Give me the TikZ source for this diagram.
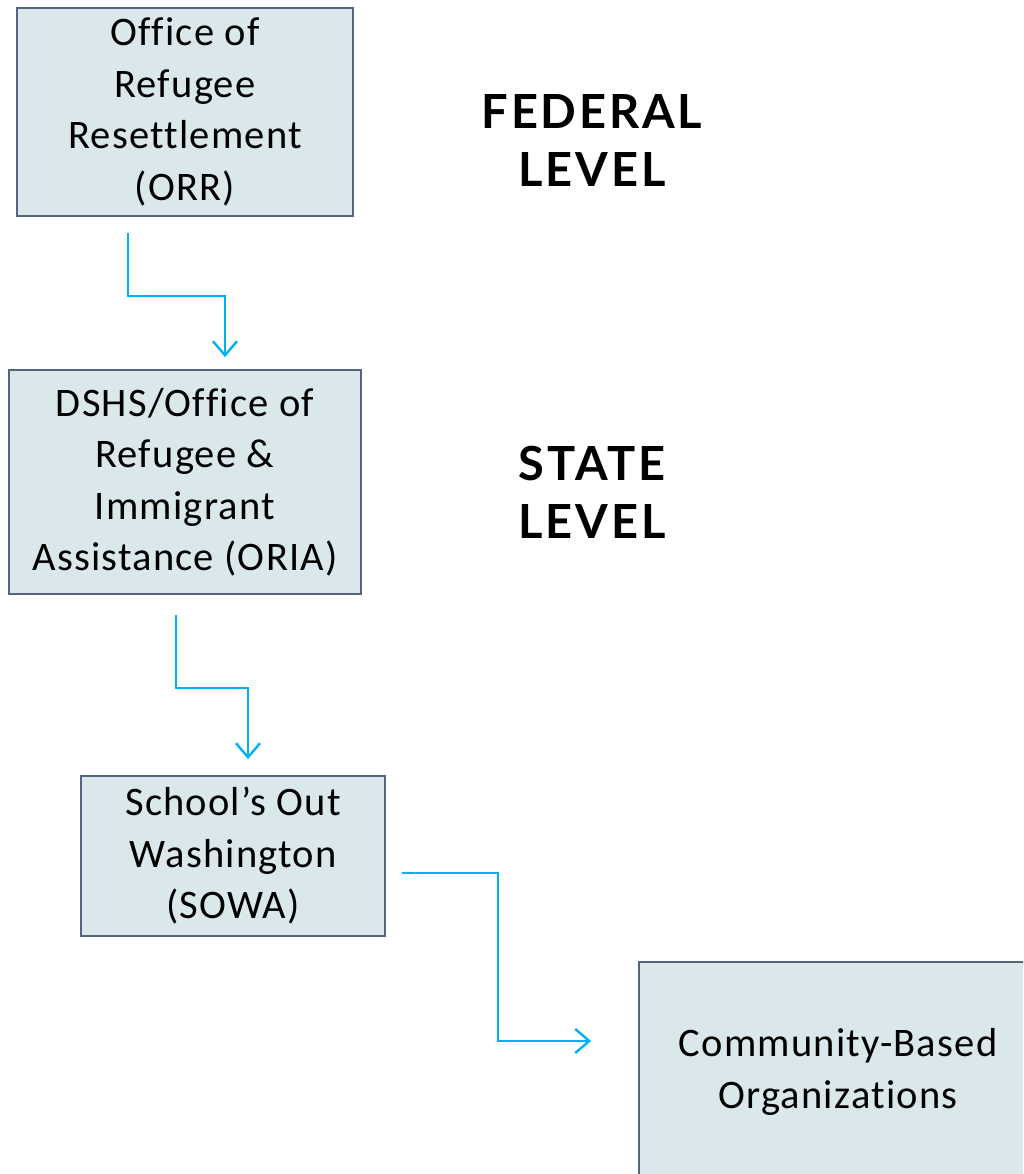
\documentclass[tikz,border=0pt]{standalone}
\usepackage{fontspec}
\setmainfont{Carlito}[Ligatures={NoCommon}, LetterSpace=3]
\newfontfamily\headfont{Lato}[LetterSpace=6]
\usetikzlibrary{arrows.meta,calc}
\definecolor{boxfill}{HTML}{DAE8EC}
\definecolor{boxline}{HTML}{56647F}
\definecolor{arrblue}{HTML}{00B0F0}
\tikzset{
  orgbox/.style={draw=boxline, line width=1.8pt, fill=boxfill, align=center, inner sep=0pt,
    font=\fontsize{40.5}{51.5}\selectfont},
  levellabel/.style={align=center, font=\headfont\bfseries\fontsize{47}{58}\selectfont},
  flow/.style={draw=arrblue, line width=2.4pt, -{Straight Barb[length=14pt,width=24pt,line width=2.4pt]}}
}
\begin{document}
\begin{tikzpicture}[x=1pt,y=-1pt]
\useasboundingbox (0,0) rectangle (1023,1174);
\clip (0,0) rectangle (1023,1174);
\node[orgbox, minimum width=336pt, minimum height=208pt] (orr) at (185,112)
  {Office of\\Refugee\\Resettlement\\(ORR)};
\node[orgbox, minimum width=352pt, minimum height=224pt] (oria) at (185,482)
  {DSHS/Office of\\Refugee \&\\Immigrant\\Assistance (ORIA)};
\node[orgbox, minimum width=304pt, minimum height=160pt] (sowa) at (233,856)
  {School’s Out\\Washington\\(SOWA)};
\node[orgbox, minimum width=398pt, minimum height=220pt] (cbo) at (838,1072)
  {Community-Based\\Organizations};
\node[levellabel] (fed) at (592,141) {FEDERAL\\LEVEL};
\node[levellabel] (state) at (592,492) {STATE\\LEVEL};
\draw[flow] ($(orr.south)+(-57,16)$) -- ++(0,63) -| ($(oria.north)+(40,-12)$);
\draw[flow] ($(oria.south)+(-9,20)$) -- ++(0,73) -| ($(sowa.north)+(15,-16)$);
\draw[flow] ($(sowa.east)+(16,17)$) -- ++(96,0) |- ($(cbo.west)+(-47,-31)$);
\end{tikzpicture}
\end{document}
